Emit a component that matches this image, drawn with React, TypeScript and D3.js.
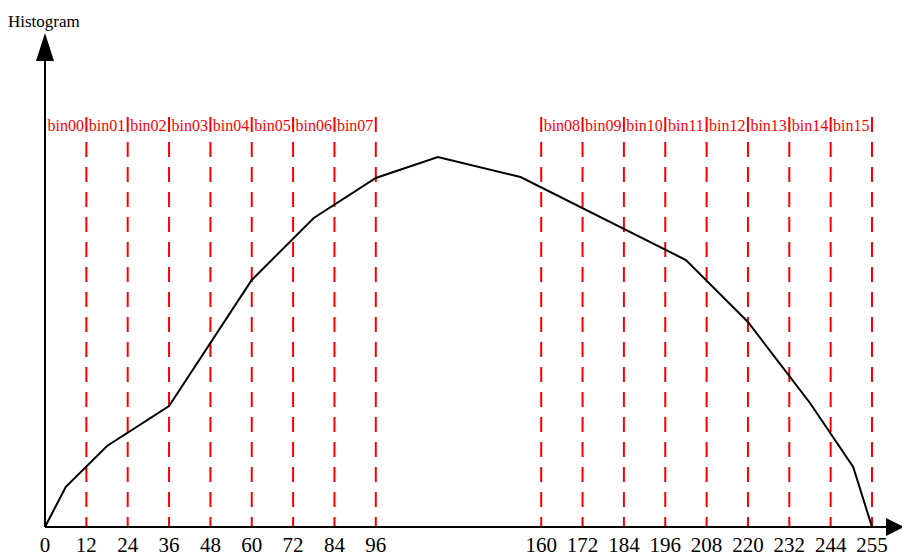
import React from "react";
import * as d3 from "d3";

const tickValues = [0, 12, 24, 36, 48, 60, 72, 84, 96, 160, 172, 184, 196, 208, 220, 232, 244, 255];
const tickSlots = [0, 1, 2, 3, 4, 5, 6, 7, 8, 12, 13, 14, 15, 16, 17, 18, 19, 20];
const binNames = ["bin00", "bin01", "bin02", "bin03", "bin04", "bin05", "bin06", "bin07", "bin08", "bin09", "bin10", "bin11", "bin12", "bin13", "bin14", "bin15"];
const binStarts = [0, 12, 24, 36, 48, 60, 72, 84, 160, 172, 184, 196, 208, 220, 232, 244];
const binEnds = [12, 24, 36, 48, 60, 72, 84, 96, 172, 184, 196, 208, 220, 232, 244, 255];
const dividerValues = [12, 24, 36, 48, 60, 72, 84, 96, 160, 172, 184, 196, 208, 220, 232, 244, 255];
const curveX = [0, 6, 18, 36, 60, 78, 96, 120, 152, 202, 220, 238, 250, 255];
const curveY = [0, 10, 20.25, 30.25, 61.75, 77.25, 87.25, 92.5, 87.5, 66.75, 51.25, 31, 15, 0];

const W = 902;
const H = 556;
const x0 = 45;
const x1 = 872;
const yBase = 527;
const lineTop = 117;

export default function App() {
  const step = (x1 - x0) / 20;
  const x = d3.scaleLinear().domain(tickValues).range(tickSlots.map((s) => x0 + s * step));
  const y = d3.scaleLinear().domain([0, 100]).range([yBase, 127]);
  const line = d3
    .line<number>()
    .x((_, i) => x(curveX[i]))
    .y((d) => y(d));
  const font = "Liberation Serif";
  return (
    <svg width={W} height={H} style={{ position: "absolute", left: 0, top: 0, background: "#fff" }}>
      {dividerValues.map((b, i) => (
        <line key={"l" + i} x1={x(b)} x2={x(b)} y1={lineTop} y2={yBase} stroke="#ff0000" strokeWidth={2} strokeDasharray="15,10" />
      ))}
      {binNames.map((n, i) => (
        <text key={"b" + i} x={(x(binStarts[i]) + x(binEnds[i])) / 2} y={131} fill="#ff0000" fontSize={16} fontFamily={font} textAnchor="middle">
          {n}
        </text>
      ))}
      <path d={line(curveY) || ""} fill="none" stroke="#000" strokeWidth={2} />
      <line x1={x0} x2={x0} y1={yBase} y2={58} stroke="#000" strokeWidth={2} />
      <line x1={x0} x2={888} y1={yBase} y2={yBase} stroke="#000" strokeWidth={2} />
      <path d={`M${x0},33 L${x0 - 9},61 L${x0 + 9},61 Z`} fill="#000" />
      <path d={`M904,${yBase} L886,${yBase - 9} L886,${yBase + 9} Z`} fill="#000" />
      <text x={8} y={27} fontSize={17} fontFamily={font} fill="#000">Histogram</text>
      {tickValues.map((t, i) => (
        <text key={"t" + i} x={x(t)} y={552} fontSize={21} fontFamily={font} textAnchor="middle" fill="#000">
          {t}
        </text>
      ))}
    </svg>
  );
}
